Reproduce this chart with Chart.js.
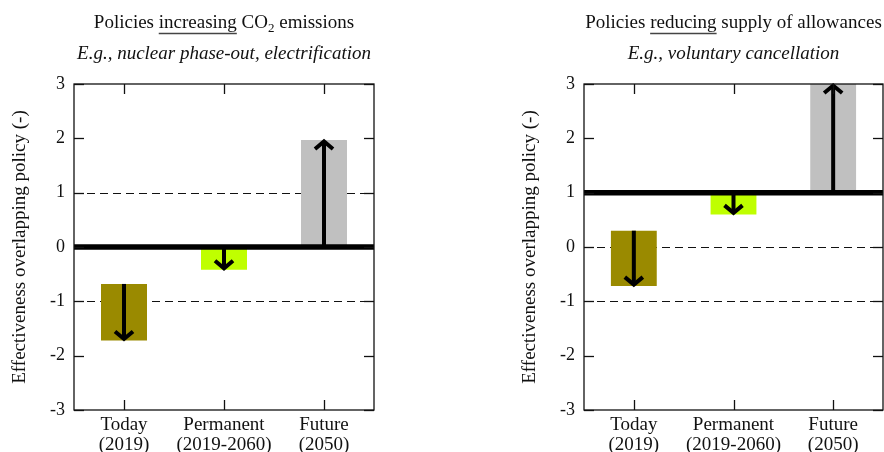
<!DOCTYPE html>
<html>
<head>
<meta charset="utf-8">
<script src="https://cdn.jsdelivr.net/npm/chart.js@4.4.1/dist/chart.umd.min.js"></script>
<style>
html, body { margin: 0; padding: 0; background: #fff; }
#wrap { position: relative; width: 884px; height: 452px; overflow: hidden; }
#left { position: absolute; left: 0; top: 0; }
#right { position: absolute; left: 510px; top: 0; }
</style>
</head>
<body>
<div id="wrap">
  <canvas id="left" width="442" height="452"></canvas>
  <canvas id="right" width="374" height="452"></canvas>
</div>
<script>
// categories and tick values
const categories = [['Today', '(2019)'], ['Permanent', '(2019-2060)'], ['Future', '(2050)']];
const yMin = -3;
const yMax = 3;

// left panel: policies increasing CO2 emissions (bar start -> bar end, arrow follows)
const increasingStart = [-0.68, 0, 0];
const increasingEnd = [-1.72, -0.42, 1.97];
const increasingBaseline = 0;
const increasingDashed = [-1, 1];

// right panel: policies reducing supply of allowances
const reducingStart = [0.3, 1, 1];
const reducingEnd = [-0.72, 0.6, 3];
const reducingBaseline = 1;
const reducingDashed = [-1, 0];

const barColors = ['#9a8a00', '#bfff00', '#c0c0c0'];
const FONT = '"Liberation Serif", "Times New Roman", serif';
const INK = '#111';

function strokeLine(ctx, x1, y1, x2, y2) {
    ctx.beginPath();
    ctx.moveTo(x1, y1);
    ctx.lineTo(x2, y2);
    ctx.stroke();
}

function drawArrow(ctx, px, fromY, toY) {
    const dir = toY > fromY ? 1 : -1;
    ctx.strokeStyle = '#000';
    ctx.lineWidth = 4;
    ctx.lineCap = 'butt';
    strokeLine(ctx, px, fromY, px, toY - dir * 2);
    ctx.lineJoin = 'miter';
    ctx.beginPath();
    ctx.moveTo(px - 9, toY - dir * 9);
    ctx.lineTo(px, toY - dir * 1.5);
    ctx.lineTo(px + 9, toY - dir * 9);
    ctx.stroke();
}

// title with underlined word and subscript
function drawRich(ctx, segs, cx, baseY, size) {
    const fontOf = s => `${s.sub ? Math.round(size * 0.7) : size}px ${FONT}`;
    let total = 0;
    segs.forEach(s => { ctx.font = fontOf(s); s.w = ctx.measureText(s.t).width; total += s.w; });
    let x = cx - total / 2;
    ctx.textAlign = 'left';
    ctx.textBaseline = 'alphabetic';
    segs.forEach(s => {
        ctx.font = fontOf(s);
        ctx.fillText(s.t, x, baseY + (s.sub ? size * 0.22 : 0));
        if (s.u) {
            ctx.lineWidth = 1.3;
            strokeLine(ctx, x, baseY + 5.5, x + s.w, baseY + 5.5);
        }
        x += s.w;
    });
}

const panelPlugin = {
    id: 'panel',
    beforeDatasetsDraw(chart, args, opts) {
        const { ctx, chartArea: a, scales: { y } } = chart;
        ctx.save();
        ctx.strokeStyle = INK;
        ctx.lineWidth = 1.2;
        ctx.setLineDash([8, 5]);
        opts.dashed.forEach(v => {
            const py = Math.round(y.getPixelForValue(v)) + 0.5;
            strokeLine(ctx, a.left, py, a.right, py);
        });
        ctx.restore();
    },
    afterDatasetsDraw(chart, args, opts) {
        const { ctx, chartArea: a, scales: { x, y } } = chart;
        ctx.save();
        // thick reference line
        ctx.strokeStyle = '#000';
        ctx.lineWidth = 5.5;
        const by = y.getPixelForValue(opts.baseline);
        strokeLine(ctx, a.left, by, a.right, by);

        // arrows along each bar
        opts.starts.forEach((s, i) => {
            drawArrow(ctx, x.getPixelForValue(i), y.getPixelForValue(s), y.getPixelForValue(opts.ends[i]));
        });

        // frame and inward ticks
        ctx.strokeStyle = INK;
        ctx.lineWidth = 1.3;
        ctx.strokeRect(a.left, a.top, a.right - a.left, a.bottom - a.top);
        y.ticks.forEach(t => {
            const py = Math.round(y.getPixelForValue(t.value)) + 0.5;
            strokeLine(ctx, a.left, py, a.left + 10, py);
            strokeLine(ctx, a.right - 10, py, a.right, py);
        });
        categories.forEach((c, i) => {
            const px = Math.round(x.getPixelForValue(i)) + 0.5;
            strokeLine(ctx, px, a.top, px, a.top + 10);
            strokeLine(ctx, px, a.bottom - 10, px, a.bottom);
        });

        // titles
        const cx = (a.left + a.right) / 2;
        ctx.fillStyle = INK;
        ctx.strokeStyle = '#444';
        drawRich(ctx, opts.title, cx, 28, 19);
        ctx.font = `italic 19px ${FONT}`;
        ctx.textAlign = 'center';
        ctx.fillText(opts.subtitle, cx, 59);

        // y axis title
        ctx.translate(20, (a.top + a.bottom) / 2);
        ctx.rotate(-Math.PI / 2);
        ctx.font = `19px ${FONT}`;
        ctx.textAlign = 'center';
        ctx.textBaseline = 'middle';
        ctx.fillText('Effectiveness overlapping policy (-)', 0, 0);
        ctx.restore();
    }
};

function makePanel(id, starts, ends, baseline, dashed, title, subtitle, rightPad) {
    const ctx = document.getElementById(id).getContext('2d');
    return new Chart(ctx, {
        type: 'bar',
        data: {
            labels: categories,
            datasets: [{
                data: starts.map((s, i) => [s, ends[i]]),
                backgroundColor: barColors,
                borderWidth: 0,
                barPercentage: 0.46,
                categoryPercentage: 1.0
            }]
        },
        options: {
            responsive: false,
            animation: false,
            devicePixelRatio: 1,
            layout: { padding: { left: 0, right: rightPad, top: 84, bottom: 0 } },
            plugins: {
                legend: { display: false },
                tooltip: { enabled: false },
                panel: { starts, ends, baseline, dashed, title, subtitle }
            },
            scales: {
                x: {
                    offset: true,
                    grid: { display: false, drawTicks: false },
                    border: { display: false },
                    ticks: { color: INK, font: { family: FONT, size: 19, lineHeight: 1.05 }, padding: 5, maxRotation: 0 },
                    afterFit: s => { s.height = 42; }
                },
                y: {
                    min: yMin,
                    max: yMax,
                    grid: { display: false, drawTicks: false },
                    border: { display: false },
                    ticks: { stepSize: 1, color: INK, font: { family: FONT, size: 18 }, padding: 9 },
                    afterFit: s => { s.width = 74; }
                }
            }
        },
        plugins: [panelPlugin]
    });
}

makePanel('left', increasingStart, increasingEnd, increasingBaseline, increasingDashed,
    [{ t: 'Policies ' }, { t: 'increasing', u: true }, { t: ' CO' }, { t: '2', sub: true }, { t: ' emissions' }],
    'E.g., nuclear phase-out, electrification', 68);

makePanel('right', reducingStart, reducingEnd, reducingBaseline, reducingDashed,
    [{ t: 'Policies ' }, { t: 'reducing', u: true }, { t: ' supply of allowances' }],
    'E.g., voluntary cancellation', 1);
</script>
</body>
</html>
